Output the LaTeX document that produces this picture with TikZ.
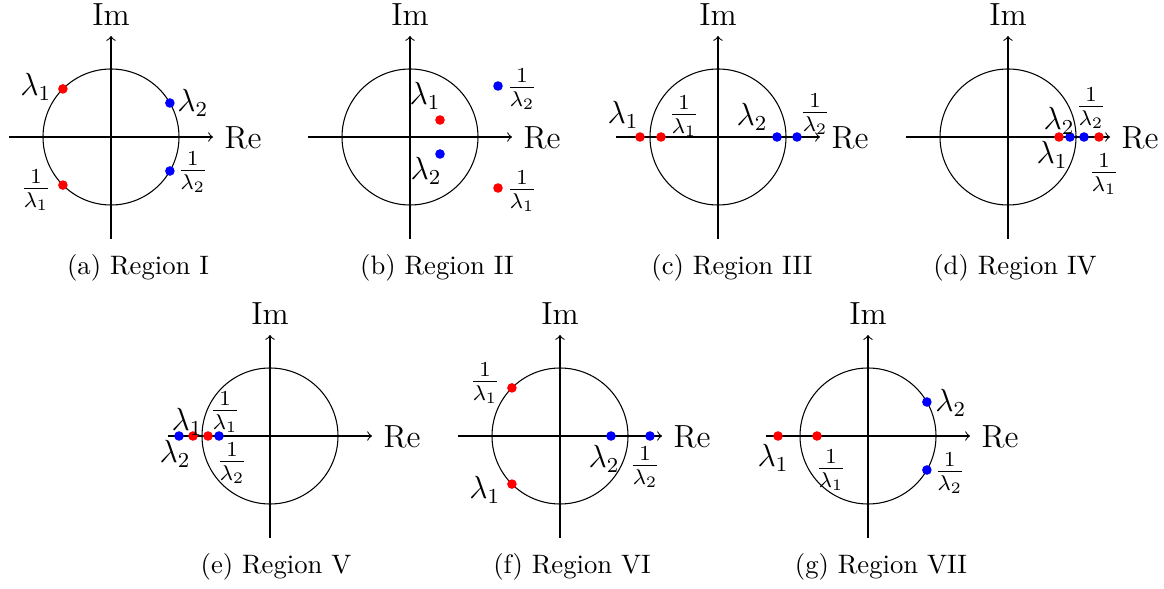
\documentclass[tikz,border=0pt]{standalone}
\usetikzlibrary{calc}
\tikzset{
  axis/.style={->, line width=0.4pt},
  unitc/.style={line width=0.4pt},
  dotr/.style={circle, fill=red, inner sep=0pt, minimum size=3.6pt},
  dotb/.style={circle, fill=blue, inner sep=0pt, minimum size=3.6pt},
  lbl/.style={font=\fontsize{12}{14}\selectfont, inner sep=0pt},
  captxt/.style={font=\fontsize{10}{12}\selectfont, inner sep=0pt},
}
\newcommand{\planeaxes}[1]{%
  \coordinate (#1-o) at (0,0);
  \coordinate (#1-xl) at (-102,0);
  \coordinate (#1-xr) at (102,0);
  \coordinate (#1-yb) at (0,-102);
  \coordinate (#1-yt) at (0,101);
  \draw[unitc] (#1-o) circle[radius=68];
  \draw[axis] (#1-xl) -- (#1-xr);
  \draw[axis] (#1-yb) -- (#1-yt);
  \node[lbl] (#1-re) at ($(#1-xr)+(30,-1)$) {Re};
  \node[lbl] (#1-im) at ($(#1-yt)+(0,21)$) {Im};
}
\begin{document}
\begin{tikzpicture}[x=0.375pt,y=0.375pt]
\useasboundingbox (0,0) rectangle (1164,589);
% (a)
\begin{scope}[shift={(111,452)}]
  \planeaxes{a}
  \node[dotr] (a-l1) at (135:68) {};
  \node[dotb] (a-l2) at (30:68) {};
  \node[dotb] (a-i2) at (-30:68) {};
  \node[dotr] (a-i1) at (225:68) {};
  \node[lbl] (a-t1) at ($(a-l1)+(-27,2)$) {$\lambda_1$};
  \node[lbl] (a-t2) at ($(a-l2)+(23,0)$) {$\lambda_2$};
  \node[lbl] (a-t3) at ($(a-i2)+(23,-1)$) {$\frac{1}{\lambda_2}$};
  \node[lbl] (a-t4) at ($(a-i1)+(-27,-5)$) {$\frac{1}{\lambda_1}$};
\end{scope}
\node[captxt] (capa) at (138,321) {(a) Region I};
% (b)
\begin{scope}[shift={(410,452)}]
  \planeaxes{b}
  \node[dotr] (b-l1) at (30,17) {};
  \node[dotb] (b-l2) at (30,-17) {};
  \node[dotb] (b-i2) at (88,51) {};
  \node[dotr] (b-i1) at (88,-51) {};
  \node[lbl] (b-t1) at ($(b-l1)+(-15,24)$) {$\lambda_1$};
  \node[lbl] (b-t2) at ($(b-l2)+(-14,-17)$) {$\lambda_2$};
  \node[lbl] (b-t3) at ($(b-i2)+(24,-3)$) {$\frac{1}{\lambda_2}$};
  \node[lbl] (b-t4) at ($(b-i1)+(24,-3)$) {$\frac{1}{\lambda_1}$};
\end{scope}
\node[captxt] (capb) at (437,321) {(b) Region II};
% (c)
\begin{scope}[shift={(718,452)}]
  \planeaxes{c}
  \node[dotr] (c-l1) at (-78,0) {};
  \node[dotr] (c-i1) at (-57,0) {};
  \node[dotb] (c-l2) at (59,0) {};
  \node[dotb] (c-i2) at (79,0) {};
  \node[lbl] (c-t1) at ($(c-l1)+(-17,22)$) {$\lambda_1$};
  \node[lbl] (c-t2) at ($(c-i1)+(23,21)$) {$\frac{1}{\lambda_1}$};
  \node[lbl] (c-t3) at ($(c-l2)+(-25,20)$) {$\lambda_2$};
  \node[lbl] (c-t4) at ($(c-i2)+(18,23)$) {$\frac{1}{\lambda_2}$};
\end{scope}
\node[captxt] (capc) at (732,321) {(c) Region III};
% (d)
\begin{scope}[shift={(1008,452)}]
  \planeaxes{d}
  \node[dotr] (d-l1) at (51,0) {};
  \node[dotb] (d-l2) at (62,0) {};
  \node[dotb] (d-i2) at (76,0) {};
  \node[dotr] (d-i1) at (91,0) {};
  \node[lbl] (d-t1) at ($(d-l2)+(-11,16)$) {$\lambda_2$};
  \node[lbl] (d-t2) at ($(d-l1)+(-7,-18)$) {$\lambda_1$};
  \node[lbl] (d-t3) at ($(d-i2)+(7,29)$) {$\frac{1}{\lambda_2}$};
  \node[lbl] (d-t4) at ($(d-i1)+(5,-37)$) {$\frac{1}{\lambda_1}$};
\end{scope}
\node[captxt] (capd) at (1015,321) {(d) Region IV};
% (e)
\begin{scope}[shift={(270,153)}]
  \planeaxes{e}
  \node[dotb] (e-l2) at (-91,0) {};
  \node[dotr] (e-l1) at (-77,0) {};
  \node[dotr] (e-i1) at (-62,0) {};
  \node[dotb] (e-i2) at (-51,0) {};
  \node[lbl] (e-t1) at ($(e-l1)+(-6,14)$) {$\lambda_1$};
  \node[lbl] (e-t2) at ($(e-l2)+(-4,-18)$) {$\lambda_2$};
  \node[lbl] (e-t3) at ($(e-i1)+(17,24)$) {$\frac{1}{\lambda_1}$};
  \node[lbl] (e-t4) at ($(e-i2)+(13,-27)$) {$\frac{1}{\lambda_2}$};
\end{scope}
\node[captxt] (cape) at (276,22) {(e) Region V};
% (f)
\begin{scope}[shift={(560,153)}]
  \planeaxes{f}
  \node[dotr] (f-i1) at (135:68) {};
  \node[dotr] (f-l1) at (225:68) {};
  \node[dotb] (f-l2) at (51,0) {};
  \node[dotb] (f-i2) at (90,0) {};
  \node[lbl] (f-t1) at ($(f-i1)+(-27,5)$) {$\frac{1}{\lambda_1}$};
  \node[lbl] (f-t2) at ($(f-l1)+(-27,-6)$) {$\lambda_1$};
  \node[lbl] (f-t3) at ($(f-l2)+(-7,-23)$) {$\lambda_2$};
  \node[lbl] (f-t4) at ($(f-i2)+(-5,-31)$) {$\frac{1}{\lambda_2}$};
\end{scope}
\node[captxt] (capf) at (572,22) {(f) Region VI};
% (g)
\begin{scope}[shift={(868,153)}]
  \planeaxes{g}
  \node[dotr] (g-l1) at (-90,0) {};
  \node[dotr] (g-i1) at (-51,0) {};
  \node[dotb] (g-l2) at (30:68) {};
  \node[dotb] (g-i2) at (-30:68) {};
  \node[lbl] (g-t1) at ($(g-l1)+(-5,-22)$) {$\lambda_1$};
  \node[lbl] (g-t2) at ($(g-i1)+(14,-34)$) {$\frac{1}{\lambda_1}$};
  \node[lbl] (g-t3) at ($(g-l2)+(24,-1)$) {$\lambda_2$};
  \node[lbl] (g-t4) at ($(g-i2)+(23,-3)$) {$\frac{1}{\lambda_2}$};
\end{scope}
\node[captxt] (capg) at (881,22) {(g) Region VII};
\end{tikzpicture}
\end{document}
